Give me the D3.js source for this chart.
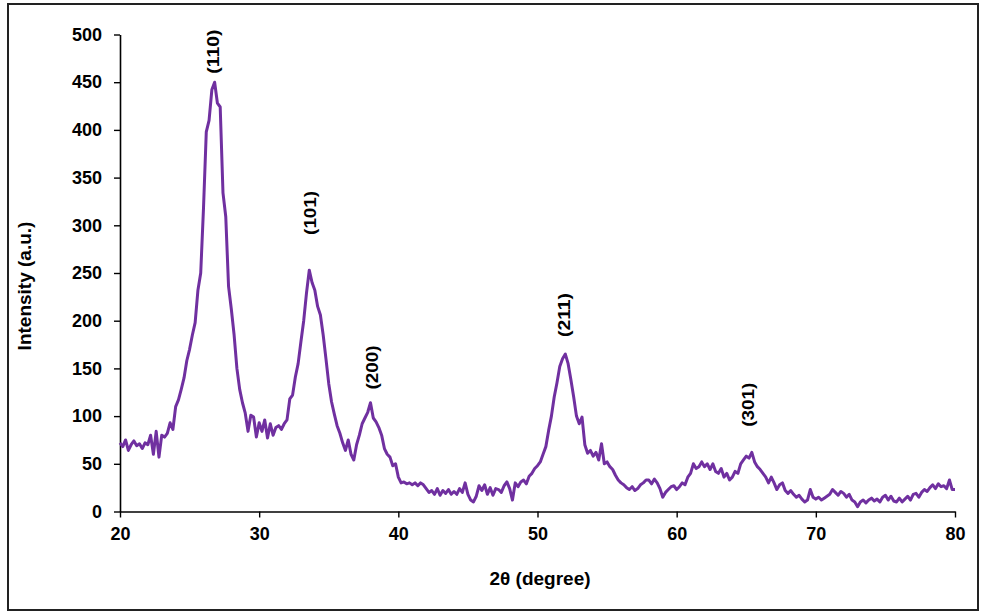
<!DOCTYPE html>
<html><head><meta charset="utf-8">
<script src="https://cdn.jsdelivr.net/npm/d3@7/dist/d3.min.js"></script>
<style>body{margin:0;background:#fff}svg{display:block}text{font-family:Arial,"Liberation Sans",sans-serif}</style>
</head><body><svg id="c" width="983" height="613"></svg>
<script>
// 2θ from 20 to 80 in 0.2° steps
const thetaStart = 20, thetaStep = 0.2;
const intensity = [
  72,68,75,64,70,74,69,71,66,72,
  70,80,60,84,57,80,78,82,93,86,
  110,117,128,140,158,170,185,198,232,250,
  318,398,410,442,450,428,424,334,309,236,
  212,185,150,128,114,103,84,101,99,78,
  93,84,96,77,92,80,88,90,86,92,
  96,118,122,141,155,178,200,229,253,240,
  232,215,206,185,160,134,115,102,90,82,
  72,64,75,60,54,70,80,92,98,104,
  114,98,94,88,80,66,60,57,48,50,
  36,30,31,29,30,28,30,27,30,28,
  24,20,22,18,24,17,22,19,23,18,
  21,18,24,20,30,18,12,10,16,27,
  22,28,18,25,17,24,23,20,27,31,
  24,12,30,26,31,33,29,37,40,45,
  48,52,60,68,85,100,120,135,152,160,
  165,155,138,120,100,92,99,70,61,64,
  58,62,54,71,50,52,47,44,38,33,
  30,28,25,23,26,22,24,28,30,33,
  33,29,34,30,24,15,20,23,26,27,
  23,26,30,28,36,40,50,45,47,52,
  47,50,44,50,42,40,45,36,40,33,
  36,42,40,50,54,58,56,62,52,47,
  44,40,36,30,36,30,23,28,30,22,
  19,22,18,15,17,13,10,12,23,15,
  13,15,12,14,16,18,23,20,17,21,
  19,15,18,12,10,5,10,12,9,12,
  14,11,13,10,15,17,12,16,11,10,
  14,10,13,16,12,18,19,15,20,23,
  21,25,28,24,29,26,27,24,33,23,
  23
];
const xTicks = [20,30,40,50,60,70,80];
const yTicks = [0,50,100,150,200,250,300,350,400,450,500];
const peakLabels = ["(110)","(101)","(200)","(211)","(301)"];
const peakTheta = [26.65, 33.65, 38.09, 51.9, 65.12];
const peakLabelValue = [482, 313, 151, 206, 112];

const data = intensity.map((v,i)=>({t: thetaStart + i*thetaStep, v}));
const svg = d3.select("#c");
svg.append("rect").attr("x",8).attr("y",4).attr("width",970).attr("height",606)
  .attr("fill","none").attr("stroke","#222").attr("stroke-width",2);

const x = d3.scaleLinear().domain([20,80]).range([120,955]);
const y = d3.scaleLinear().domain([0,500]).range([511.5,34.5]);

const gx = svg.append("g").attr("transform","translate(0,511.5)")
  .call(d3.axisBottom(x).tickValues(xTicks).tickSize(6).tickSizeOuter(0).tickPadding(10));
const gy = svg.append("g").attr("transform","translate(120,0)")
  .call(d3.axisLeft(y).tickValues(yTicks).tickSize(6).tickSizeOuter(0).tickPadding(12));
[gx,gy].forEach(g=>{
  g.select(".domain").attr("stroke","#000").attr("stroke-width",1.6);
  g.selectAll(".tick line").attr("stroke","#000").attr("stroke-width",1.4);
  g.selectAll(".tick text").attr("fill","#000").style("font-size","18px").style("font-weight","bold");
});

svg.append("path").datum(data)
  .attr("fill","none").attr("stroke","#7030A0").attr("stroke-width",3)
  .attr("stroke-linejoin","round")
  .attr("d", d3.line().x(d=>x(d.t)).y(d=>y(d.v)));

peakLabels.forEach((lab,i)=>{
  const px = x(peakTheta[i]), py = y(peakLabelValue[i]);
  svg.append("text").attr("transform",`translate(${px+6},${py}) rotate(-90)`)
    .attr("text-anchor","middle").style("font-size","16px").style("font-weight","bold")
    .attr("textLength",44).attr("lengthAdjust","spacingAndGlyphs")
    .text(lab);
});

svg.append("text").attr("x",540).attr("y",585).attr("text-anchor","middle")
  .style("font-size","19px").style("font-weight","bold").text("2θ (degree)");
svg.append("text").attr("transform","translate(31,286) rotate(-90)").attr("text-anchor","middle")
  .style("font-size","19px").style("font-weight","bold").text("Intensity (a.u.)");
</script></body></html>
